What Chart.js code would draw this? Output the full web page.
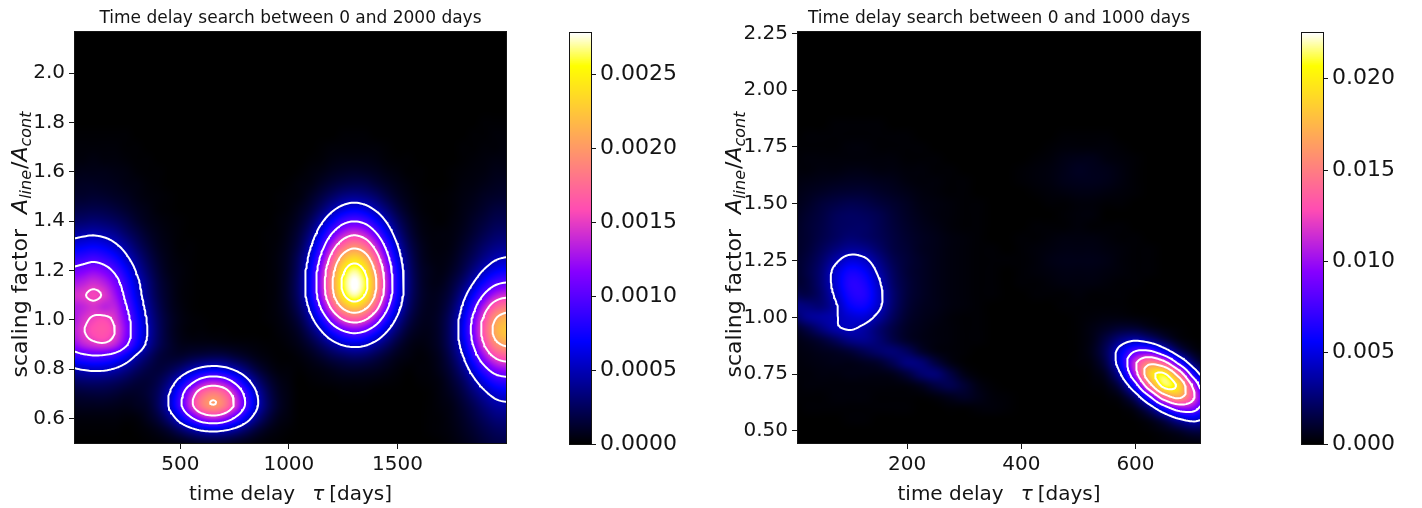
<!DOCTYPE html>
<html>
<head>
<meta charset="utf-8">
<title>Time delay search</title>
<script src="https://cdn.jsdelivr.net/npm/chart.js@4.4.1/dist/chart.umd.min.js"></script>
<style>
  html, body { margin: 0; padding: 0; background: #fff; }
  body { width: 1422px; height: 508px; position: relative; overflow: hidden; }
  canvas { position: absolute; top: 0; }
</style>
</head>
<body>
<canvas id="leftMap" width="520" height="508" style="left:0px"></canvas>
<canvas id="leftBar" width="130" height="508" style="left:560px"></canvas>
<canvas id="rightMap" width="520" height="508" style="left:700px"></canvas>
<canvas id="rightBar" width="130" height="508" style="left:1292px"></canvas>
<script>
/* ============================================
   TIME DELAY SEARCH - LIKELIHOOD MAPS
   ============================================ */

// ---- Search 1: delays 0 - 2000 days ----
const leftTau = [0, 50, 100, 150, 200, 250, 300, 350, 400, 450, 500, 550, 600, 650, 700, 750, 800, 850, 900, 950,
    1000, 1050, 1100, 1150, 1200, 1250, 1300, 1350, 1400, 1450, 1500, 1550, 1600, 1650, 1700, 1750, 1800, 1850, 1900, 1950, 2000];
const leftScale = [0.50, 0.55, 0.60, 0.65, 0.70, 0.75, 0.80, 0.85, 0.90, 0.95, 1.00, 1.05, 1.10, 1.15,
    1.20, 1.25, 1.30, 1.35, 1.40, 1.45, 1.50, 1.55, 1.60, 1.65, 1.70, 1.75, 1.80, 1.85];
// likelihood, units of 1e-5, one row per scaling factor (bottom row first)
const leftUnit = 1e-5;
const leftLikelihood = [
    [0,0,0,0,0,0,0,1,2,4,6,10,13,14,13,10,7,4,2,1,0,0,0,0,0,0,0,0,0,0,0,0,0,0,1,3,6,10,15,19,20],
    [1,1,1,1,1,0,1,3,7,14,26,39,50,54,50,40,27,15,7,3,1,0,0,0,0,0,0,0,0,0,0,0,0,1,2,4,8,13,19,24,26],
    [3,3,3,3,3,2,3,8,17,35,63,95,122,133,123,97,65,37,18,7,3,0,0,0,0,0,0,0,0,0,0,0,0,1,2,5,10,17,25,32,34],
    [7,8,8,8,7,6,8,12,26,53,93,141,181,198,183,145,97,55,27,11,4,0,0,0,0,0,0,0,0,0,0,0,0,1,3,6,13,22,33,42,45],
    [14,15,16,16,14,11,11,15,26,50,88,133,171,186,173,136,91,52,25,10,4,0,0,0,0,1,1,1,0,0,0,0,0,1,4,9,18,31,45,57,62],
    [26,29,30,29,26,21,16,15,21,36,61,90,116,127,118,93,62,35,17,7,3,0,1,2,3,4,4,4,3,2,1,0,1,2,5,13,25,44,64,81,87],
    [47,52,55,54,48,38,27,19,16,21,31,45,57,62,58,46,31,17,8,3,2,1,3,5,8,11,12,11,9,6,3,1,2,3,8,18,36,62,91,115,124],
    [82,90,95,93,84,66,45,29,17,13,13,17,20,22,21,16,11,6,3,1,1,3,7,13,20,25,28,26,20,13,7,4,2,4,10,24,48,83,123,154,167],
    [117,133,143,146,134,105,72,44,24,13,7,6,6,6,5,4,3,2,1,1,3,7,15,27,41,53,58,54,42,28,15,7,4,6,13,30,59,102,151,190,205],
    [130,147,159,162,149,117,79,49,26,12,5,2,2,1,1,0,0,0,0,2,5,12,27,48,74,95,105,97,76,50,28,13,7,7,14,32,65,112,165,208,225],
    [126,143,154,157,144,113,77,47,25,12,5,2,1,0,0,0,0,0,1,3,8,19,42,75,116,150,164,152,119,79,44,21,10,8,14,31,62,108,158,200,216],
    [129,136,143,136,134,103,70,42,22,10,4,1,0,0,0,0,0,0,1,4,11,27,57,104,159,206,226,209,164,108,61,29,13,8,12,26,53,91,135,170,184],
    [140,147,155,146,124,93,62,37,19,9,3,1,0,0,0,0,0,0,1,4,13,32,69,124,190,246,270,250,195,129,72,34,15,8,10,20,41,70,103,130,141],
    [126,133,140,132,112,84,56,34,17,8,3,1,0,0,0,0,0,0,1,4,13,33,71,129,198,257,279,261,204,135,75,36,15,7,7,15,29,50,74,93,101],
    [106,112,118,111,94,71,47,28,14,6,3,1,0,0,0,0,0,0,1,4,12,31,68,123,188,244,267,247,193,128,72,34,14,7,5,10,20,35,52,65,71],
    [83,87,92,86,74,55,37,22,11,5,2,1,0,0,0,0,0,0,1,4,11,28,59,108,165,214,234,217,169,112,63,30,12,5,4,7,15,25,37,47,51],
    [61,65,68,64,54,41,27,16,8,4,1,1,0,0,0,0,0,0,1,3,9,22,48,87,134,173,190,176,137,91,51,24,10,4,3,5,11,19,28,35,38],
    [42,45,47,44,38,28,19,11,6,3,1,0,0,0,0,0,0,0,1,2,7,17,36,66,101,130,143,132,103,68,38,18,7,3,3,4,8,14,21,27,29],
    [28,29,31,29,25,19,12,7,4,2,1,0,0,0,0,0,0,0,0,2,5,12,25,46,70,91,99,92,72,48,27,13,5,2,1,3,6,11,16,21,22],
    [18,19,20,19,16,12,8,5,2,1,0,0,0,0,0,0,0,0,0,1,3,8,16,29,45,58,64,59,46,31,17,8,3,1,1,2,5,8,12,16,17],
    [12,12,13,12,10,8,5,3,2,1,0,0,0,0,0,0,0,0,0,1,2,4,10,18,27,35,38,35,28,18,10,5,2,1,1,2,4,6,9,11,12],
    [8,9,9,8,7,5,4,2,1,0,0,0,0,0,0,0,0,0,0,0,1,3,5,10,15,19,21,20,15,10,6,3,1,0,0,1,3,4,6,8,9],
    [5,6,6,6,5,4,2,1,1,0,0,0,0,0,0,0,0,0,0,0,0,1,3,5,8,10,11,10,8,5,3,1,1,0,0,1,2,3,4,6,6],
    [3,3,4,3,3,2,1,1,0,0,0,0,0,0,0,0,0,0,0,0,0,0,1,2,4,5,5,5,4,2,1,1,0,0,0,0,1,2,3,4,4],
    [2,2,2,2,2,1,1,0,0,0,0,0,0,0,0,0,0,0,0,0,0,0,0,1,2,2,2,2,2,1,0,0,0,0,0,0,1,1,2,2,3],
    [1,1,1,1,1,1,0,0,0,0,0,0,0,0,0,0,0,0,0,0,0,0,0,0,0,1,1,1,0,0,0,0,0,0,0,0,0,1,1,2,2],
    [0,0,0,0,0,0,0,0,0,0,0,0,0,0,0,0,0,0,0,0,0,0,0,0,0,0,0,0,0,0,0,0,0,0,0,0,0,0,1,1,1],
    [0,0,0,0,0,0,0,0,0,0,0,0,0,0,0,0,0,0,0,0,0,0,0,0,0,0,0,0,0,0,0,0,0,0,0,0,0,0,0,0,0]
];
const leftTauRange = [15, 2000];
const leftScaleRange = [0.5, 2.167];
const leftMax = 0.00278;
const leftLevels = [0.0005, 0.0010, 0.0015, 0.0020, 0.0025];
const leftTauTicks = [500, 1000, 1500];
const leftScaleTicks = [0.6, 0.8, 1.0, 1.2, 1.4, 1.6, 1.8, 2.0];
const leftBarTicks = [0, 0.0005, 0.0010, 0.0015, 0.0020, 0.0025];

// ---- Search 2: delays 0 - 1000 days ----
const rightTau = [0, 25, 50, 75, 100, 125, 150, 175, 200, 225, 250, 275, 300, 325, 350, 375, 400,
    425, 450, 475, 500, 525, 550, 575, 600, 625, 650, 675, 700, 725];
const rightScale = [0.45, 0.50, 0.55, 0.60, 0.65, 0.70, 0.75, 0.80, 0.85, 0.90, 0.95, 1.00, 1.05, 1.10, 1.15,
    1.20, 1.25, 1.30, 1.35, 1.40, 1.45, 1.50, 1.55, 1.60, 1.65, 1.70, 1.75, 1.80, 1.85, 1.90];
// likelihood, units of 1e-4
const rightUnit = 1e-4;
const rightLikelihood = [
    [0,0,0,0,0,0,0,0,0,0,0,0,0,0,0,0,0,0,0,0,0,0,0,0,0,0,1,2,3,4],
    [0,0,0,0,0,0,0,0,0,0,0,0,0,0,0,0,0,0,0,0,0,0,0,0,0,1,4,9,15,15],
    [0,0,0,0,1,1,0,0,0,0,0,0,0,0,0,0,0,0,0,0,0,0,0,0,1,6,18,36,46,37],
    [0,1,1,1,1,1,1,1,1,0,0,1,1,2,2,1,0,0,0,0,0,0,0,1,7,27,63,95,94,60],
    [1,1,1,2,2,2,1,1,1,1,3,6,8,5,2,1,0,0,0,0,0,0,1,6,27,77,141,167,128,64],
    [1,2,2,2,2,2,2,2,3,7,14,17,11,4,1,0,0,0,0,0,0,1,4,20,67,147,209,193,115,44],
    [2,2,3,3,4,4,4,6,13,23,25,15,5,1,0,0,0,0,0,0,0,2,10,41,108,185,204,147,68,21],
    [2,3,4,5,5,7,10,18,27,25,14,5,1,0,0,0,0,0,0,0,1,4,18,56,115,153,132,74,27,6],
    [3,4,6,8,12,18,23,25,20,10,4,2,1,0,0,0,0,0,0,0,1,6,21,51,81,84,56,24,7,1],
    [4,7,12,20,29,31,25,16,9,5,3,2,1,1,0,0,0,0,0,0,1,5,16,30,38,30,16,5,1,0],
    [8,16,27,37,41,36,25,15,8,5,3,2,1,1,0,0,0,0,0,0,1,4,8,12,12,7,3,1,0,0],
    [21,31,35,39,46,47,35,20,10,6,4,2,1,1,0,0,0,0,0,0,1,2,3,3,2,1,0,0,0,0],
    [29,27,26,38,56,59,44,24,12,7,5,3,2,1,0,0,0,0,0,1,1,1,1,1,0,0,0,0,0,0],
    [18,16,24,43,63,65,46,25,13,8,5,3,2,1,1,0,0,1,1,1,2,1,1,1,0,0,0,0,0,0],
    [10,14,26,47,66,63,43,23,13,8,5,3,2,1,1,0,1,1,2,3,3,3,2,1,1,0,0,0,0,0],
    [9,15,26,46,61,56,37,21,12,8,5,3,2,1,1,0,1,2,3,4,4,4,3,2,1,1,0,0,0,0],
    [9,14,23,37,48,44,30,18,12,8,5,3,2,1,1,1,1,2,4,5,5,5,4,2,1,1,0,0,0,0],
    [8,12,19,27,33,31,23,15,11,7,5,3,2,1,1,0,1,2,3,4,4,4,3,2,1,1,0,0,0,0],
    [8,11,16,21,25,23,19,14,10,7,5,3,2,1,0,0,1,1,2,3,3,3,2,1,1,0,0,0,0,0],
    [7,11,15,20,22,22,18,13,9,6,4,2,1,1,0,0,0,1,1,1,2,1,1,1,0,0,0,0,0,0],
    [6,10,14,19,21,20,17,12,8,5,3,2,1,1,0,0,0,0,0,1,2,2,0,0,0,0,0,0,0,0],
    [5,8,12,15,17,16,13,10,7,4,3,2,1,1,0,0,0,0,1,1,2,2,1,1,0,0,0,0,0,0],
    [4,6,8,10,11,11,9,7,5,3,2,1,1,0,0,0,0,1,2,3,4,4,3,2,1,0,0,0,0,0],
    [3,4,5,6,7,7,6,5,3,2,2,1,1,0,0,0,1,2,3,5,6,6,5,3,1,0,0,0,0,0],
    [2,2,3,3,4,4,3,3,2,2,1,1,0,0,0,0,1,2,3,5,7,6,5,3,1,0,0,0,0,0],
    [1,2,2,2,2,2,2,2,1,1,1,0,0,0,0,0,0,1,2,4,5,5,3,2,1,0,0,0,0,0],
    [1,1,1,1,2,2,1,1,1,1,0,0,0,0,0,0,0,0,1,2,2,2,2,1,0,0,0,0,0,0],
    [0,1,1,1,1,1,1,1,1,0,0,0,0,0,0,0,0,0,0,1,1,1,1,0,0,0,0,0,0,0],
    [0,0,0,1,1,1,1,0,0,0,0,0,0,0,0,0,0,0,0,0,0,0,0,0,0,0,0,0,0,0],
    [0,0,0,0,0,0,0,0,0,0,0,0,0,0,0,0,0,0,0,0,0,0,0,0,0,0,0,0,0,0]
];
const rightTauRange = [9, 713];
const rightScaleRange = [0.447, 2.256];
const rightMax = 0.0225;
const rightLevels = [0.004, 0.008, 0.012, 0.016, 0.020];
const rightTauTicks = [200, 400, 600];
const rightScaleTicks = [0.50, 0.75, 1.00, 1.25, 1.50, 1.75, 2.00, 2.25];
const rightBarTicks = [0, 0.005, 0.010, 0.015, 0.020];

const ink = '#141414';
Chart.defaults.font.family = "'DejaVu Sans', sans-serif";
Chart.defaults.color = ink;

/**
 * gnuplot2 colour map, as a lookup table
 */
const LUT_SIZE = 1024;
const lut = (function () {
    const c = v => Math.min(1, Math.max(0, v));
    const out = [];
    for (let k = 0; k < LUT_SIZE; k++) {
        const t = k / (LUT_SIZE - 1);
        const r = c(t / 0.32 - 0.78125);
        const g = c(2 * t - 0.84);
        const b = c(t < 0.25 ? 4 * t : (t < 0.92 ? -2 * t + 1.84 : t / 0.08 - 11.5));
        out.push([Math.round(r * 255), Math.round(g * 255), Math.round(b * 255)]);
    }
    return out;
})();

function colourOf(frac) {
    const k = Math.round(Math.min(1, Math.max(0, frac)) * (LUT_SIZE - 1));
    return lut[k];
}

/**
 * Smooth (Catmull-Rom) lookup on a likelihood grid
 */
function makeField(taus, scales, rows, unit) {
    const nx = taus.length, ny = scales.length;
    const dx = taus[1] - taus[0], dy = scales[1] - scales[0];
    const at = (i, j) => rows[Math.min(ny - 1, Math.max(0, j))][Math.min(nx - 1, Math.max(0, i))];
    const cr = (p0, p1, p2, p3, t) =>
        p1 + 0.5 * t * (p2 - p0 + t * (2 * p0 - 5 * p1 + 4 * p2 - p3 + t * (3 * (p1 - p2) + p3 - p0)));
    return function (tau, s) {
        const fx = (tau - taus[0]) / dx, fy = (s - scales[0]) / dy;
        const i = Math.floor(fx), j = Math.floor(fy);
        const tx = fx - i, ty = fy - j;
        const col = [];
        for (let k = -1; k <= 2; k++) {
            col.push(cr(at(i - 1, j + k), at(i, j + k), at(i + 1, j + k), at(i + 2, j + k), tx));
        }
        return Math.max(0, cr(col[0], col[1], col[2], col[3], ty)) * unit;
    };
}

/**
 * Marching squares, segments chained into polylines
 */
function traceContours(field, xr, yr, nx, ny, level) {
    const xs = [], ys = [];
    for (let i = 0; i <= nx; i++) xs.push(xr[0] + (xr[1] - xr[0]) * i / nx);
    for (let j = 0; j <= ny; j++) ys.push(yr[0] + (yr[1] - yr[0]) * j / ny);
    const v = ys.map(y => xs.map(x => field(x, y)));
    const pts = new Map();
    const links = new Map();

    function cross(key, x0, y0, v0, x1, y1, v1) {
        if (!pts.has(key)) {
            const t = (level - v0) / (v1 - v0);
            pts.set(key, { x: x0 + t * (x1 - x0), y: y0 + t * (y1 - y0) });
        }
        return key;
    }
    function link(a, b) {
        if (!links.has(a)) links.set(a, []);
        if (!links.has(b)) links.set(b, []);
        links.get(a).push(b);
        links.get(b).push(a);
    }

    for (let j = 0; j < ny; j++) {
        for (let i = 0; i < nx; i++) {
            const v00 = v[j][i], v10 = v[j][i + 1], v01 = v[j + 1][i], v11 = v[j + 1][i + 1];
            const a00 = v00 >= level, a10 = v10 >= level, a01 = v01 >= level, a11 = v11 >= level;
            const e = {};
            if (a00 !== a10) e.b = cross('h' + i + '_' + j, xs[i], ys[j], v00, xs[i + 1], ys[j], v10);
            if (a10 !== a11) e.r = cross('v' + (i + 1) + '_' + j, xs[i + 1], ys[j], v10, xs[i + 1], ys[j + 1], v11);
            if (a01 !== a11) e.t = cross('h' + i + '_' + (j + 1), xs[i], ys[j + 1], v01, xs[i + 1], ys[j + 1], v11);
            if (a00 !== a01) e.l = cross('v' + i + '_' + j, xs[i], ys[j], v00, xs[i], ys[j + 1], v01);
            const keys = Object.keys(e);
            if (keys.length === 2) {
                link(e[keys[0]], e[keys[1]]);
            } else if (keys.length === 4) {
                const centre = (v00 + v10 + v01 + v11) / 4 >= level;
                if (centre === a00) { link(e.b, e.r); link(e.t, e.l); }
                else { link(e.b, e.l); link(e.r, e.t); }
            }
        }
    }

    const used = new Set();
    const lines = [];
    const walk = start => {
        const line = [start];
        used.add(start);
        let cur = start;
        for (;;) {
            const next = links.get(cur).find(k => !used.has(k));
            if (next === undefined) break;
            used.add(next);
            line.push(next);
            cur = next;
        }
        return line;
    };
    links.forEach((ls, k) => { if (ls.length === 1 && !used.has(k)) lines.push(walk(k)); });
    links.forEach((ls, k) => {
        if (!used.has(k)) { const l = walk(k); l.push(l[0]); lines.push(l); }
    });
    return lines.map(l => l.map(k => pts.get(k)));
}

function contourDatasets(field, xr, yr, levels, nx, ny) {
    const sets = [];
    levels.forEach(level => {
        traceContours(field, xr, yr, nx, ny, level).forEach(line => {
            sets.push({
                data: line,
                showLine: true,
                borderColor: '#ffffff',
                borderWidth: 2,
                pointRadius: 0,
                tension: 0,
                fill: false,
                borderJoinStyle: 'round',
                borderCapStyle: 'round'
            });
        });
    });
    return sets;
}

/**
 * Plugins
 */
function heatmapPlugin(field, vmax) {
    let cache = null;
    return {
        id: 'heatmap',
        beforeDatasetsDraw(chart) {
            const { ctx, chartArea: a, scales } = chart;
            const left = Math.round(a.left), top = Math.round(a.top);
            const w = Math.round(a.right) - left, h = Math.round(a.bottom) - top;
            if (!cache) {
                cache = document.createElement('canvas');
                cache.width = w;
                cache.height = h;
                const c2 = cache.getContext('2d');
                const img = c2.createImageData(w, h);
                const taus = [];
                for (let px = 0; px < w; px++) taus.push(scales.x.getValueForPixel(left + px + 0.5));
                for (let py = 0; py < h; py++) {
                    const s = scales.y.getValueForPixel(top + py + 0.5);
                    for (let px = 0; px < w; px++) {
                        const col = colourOf(field(taus[px], s) / vmax);
                        const o = (py * w + px) * 4;
                        img.data[o] = col[0];
                        img.data[o + 1] = col[1];
                        img.data[o + 2] = col[2];
                        img.data[o + 3] = 255;
                    }
                }
                c2.putImageData(img, 0, 0);
            }
            ctx.drawImage(cache, left, top);
        }
    };
}

function runsWidth(ctx, runs) {
    let w = 0;
    runs.forEach(r => { ctx.font = r.font; w += ctx.measureText(r.text).width + (r.gap || 0); });
    return w;
}

function drawRuns(ctx, runs, cx, baseline) {
    let x = cx - runsWidth(ctx, runs) / 2;
    ctx.textAlign = 'left';
    ctx.textBaseline = 'alphabetic';
    runs.forEach(r => {
        ctx.font = r.font;
        ctx.fillText(r.text, x, baseline + (r.dy || 0));
        x += ctx.measureText(r.text).width + (r.gap || 0);
    });
}

const xLabelRuns = [
    { text: 'time delay', font: "20px 'DejaVu Sans'", gap: 17 },
    { text: 'τ', font: "italic 20px 'DejaVu Sans'", gap: 5 },
    { text: '[days]', font: "20px 'DejaVu Sans'" }
];
const yLabelRuns = [
    { text: 'scaling factor', font: "22px 'DejaVu Sans'", gap: 15 },
    { text: 'A', font: "italic 22px 'DejaVu Sans'" },
    { text: 'line', font: "italic 16px 'DejaVu Sans'", dy: 4, gap: 1 },
    { text: '/', font: "22px 'DejaVu Sans'" },
    { text: 'A', font: "italic 22px 'DejaVu Sans'" },
    { text: 'cont', font: "italic 16px 'DejaVu Sans'", dy: 4 }
];

function panelTextPlugin(title, yLabelX) {
    return {
        id: 'panelText',
        afterDraw(chart) {
            const { ctx, chartArea: a } = chart;
            ctx.save();
            ctx.strokeStyle = ink;
            ctx.lineWidth = 1;
            ctx.strokeRect(Math.round(a.left) - 0.5, Math.round(a.top) - 0.5,
                Math.round(a.right) - Math.round(a.left) + 1, Math.round(a.bottom) - Math.round(a.top) + 1);
            ctx.fillStyle = ink;
            ctx.font = "17px 'DejaVu Sans'";
            ctx.textAlign = 'center';
            ctx.textBaseline = 'alphabetic';
            ctx.fillText(title, (a.left + a.right) / 2, 23);
            drawRuns(ctx, xLabelRuns, (a.left + a.right) / 2, 500);
            ctx.translate(yLabelX, (a.top + a.bottom) / 2 + 7);
            ctx.rotate(-Math.PI / 2);
            drawRuns(ctx, yLabelRuns, 0, 0);
            ctx.restore();
        }
    };
}

const colourStrip = {
    id: 'colourStrip',
    beforeDatasetsDraw(chart) {
        const { ctx, chartArea: a, scales: { y } } = chart;
        const top = Math.round(a.top), bottom = Math.round(a.bottom);
        const left = Math.round(a.left), right = Math.round(a.right);
        for (let py = top; py < bottom; py++) {
            const col = colourOf(y.getValueForPixel(py + 0.5) / y.max);
            ctx.fillStyle = 'rgb(' + col[0] + ',' + col[1] + ',' + col[2] + ')';
            ctx.fillRect(left, py, right - left, 1);
        }
        ctx.strokeStyle = ink;
        ctx.lineWidth = 1;
        ctx.strokeRect(left - 0.5, top - 0.5, right - left + 1, bottom - top + 1);
    }
};

function axis(range, ticks, fmt, size, tickLength, extra) {
    return Object.assign({
        type: 'linear',
        min: range[0],
        max: range[1],
        afterBuildTicks: s => { s.ticks = ticks.map(v => ({ value: v })); },
        ticks: { autoSkip: false, maxRotation: 0, padding: 4, color: ink, font: { size: size }, callback: v => fmt(v) },
        grid: { drawOnChartArea: false, drawTicks: true, tickLength: tickLength, tickWidth: 1, tickColor: ink, color: ink },
        border: { display: false }
    }, extra);
}

const common = {
    responsive: false,
    animation: false,
    events: [],
    devicePixelRatio: 1,
    plugins: { legend: { display: false }, tooltip: { enabled: false } }
};

function heatChart(id, cfg) {
    const field = makeField(cfg.tau, cfg.scale, cfg.z, cfg.unit);
    return new Chart(document.getElementById(id), {
        type: 'scatter',
        data: { datasets: contourDatasets(field, cfg.tauRange, cfg.scaleRange, cfg.levels, cfg.nx, cfg.ny) },
        options: Object.assign({}, common, {
            layout: { padding: cfg.padding },
            scales: {
                x: axis(cfg.tauRange, cfg.tauTicks, v => String(v), 20, 6, { afterFit: s => { s.height = 65; } }),
                y: axis(cfg.scaleRange, cfg.scaleTicks, cfg.scaleFormat, 20, 6, { afterFit: s => { s.width = cfg.yWidth; } })
            }
        }),
        plugins: [heatmapPlugin(field, cfg.vmax), panelTextPlugin(cfg.title, cfg.yLabelX)]
    });
}

function barChart(id, vmax, ticks, fmt) {
    return new Chart(document.getElementById(id), {
        type: 'scatter',
        data: { datasets: [] },
        options: Object.assign({}, common, {
            layout: { padding: { left: 10, top: 33, bottom: 64, right: 0 } },
            scales: {
                x: { display: false, min: 0, max: 1 },
                y: axis([0, vmax], ticks, fmt, 22, 5, { position: 'right', afterFit: s => { s.width = 99; } })
            }
        }),
        plugins: [colourStrip]
    });
}

document.addEventListener('DOMContentLoaded', function () {
    heatChart('leftMap', {
        tau: leftTau, scale: leftScale, z: leftLikelihood, unit: leftUnit,
        tauRange: leftTauRange, scaleRange: leftScaleRange, levels: leftLevels, vmax: leftMax,
        tauTicks: leftTauTicks, scaleTicks: leftScaleTicks, scaleFormat: v => v.toFixed(1),
        nx: 240, ny: 200, yWidth: 75, yLabelX: 27,
        padding: { left: 0, right: 14, top: 32, bottom: 0 },
        title: 'Time delay search between 0 and 2000 days'
    });
    barChart('leftBar', leftMax, leftBarTicks, v => v.toFixed(4));

    heatChart('rightMap', {
        tau: rightTau, scale: rightScale, z: rightLikelihood, unit: rightUnit,
        tauRange: rightTauRange, scaleRange: rightScaleRange, levels: rightLevels, vmax: rightMax,
        tauTicks: rightTauTicks, scaleTicks: rightScaleTicks, scaleFormat: v => v.toFixed(2),
        nx: 200, ny: 210, yWidth: 98, yLabelX: 41,
        padding: { left: 0, right: 20, top: 32, bottom: 0 },
        title: 'Time delay search between 0 and 1000 days'
    });
    barChart('rightBar', rightMax, rightBarTicks, v => v.toFixed(3));
});
</script>
</body>
</html>
